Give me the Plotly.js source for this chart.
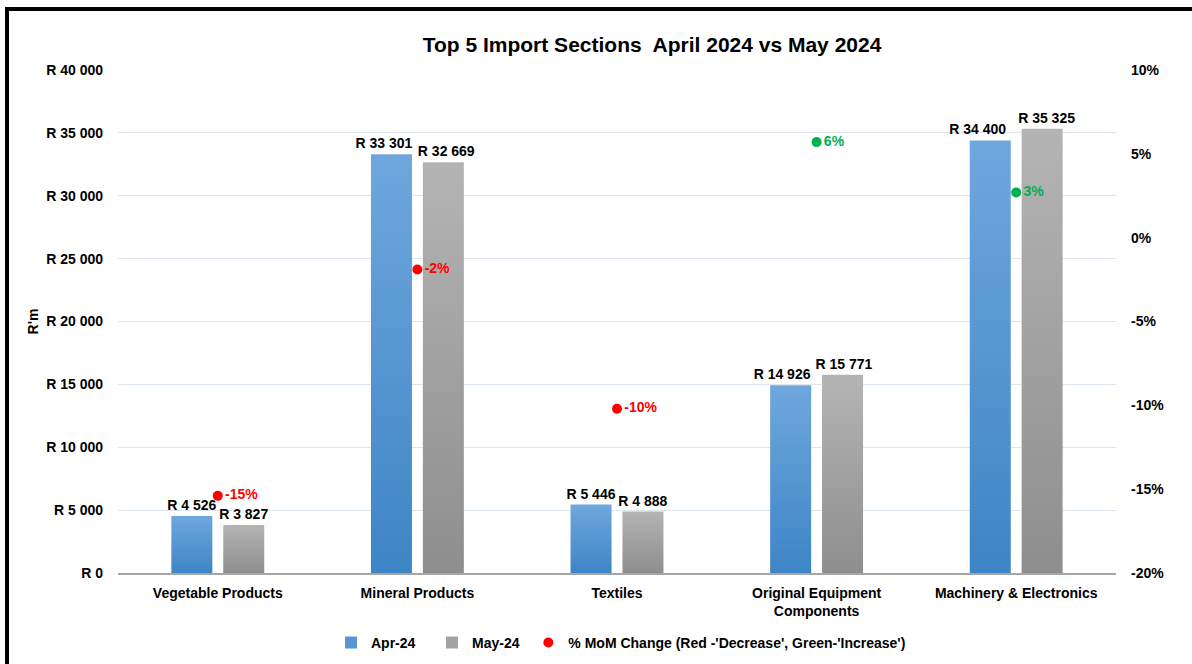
<!DOCTYPE html>
<html>
<head>
<meta charset="utf-8">
<script src="https://cdn.plot.ly/plotly-3.0.1.min.js"></script>
<style>
  html, body { margin: 0; padding: 0; background: #fff; }
  #wrap { position: relative; width: 1192px; height: 664px; overflow: hidden; }
  #chart { position: absolute; left: 0; top: 0; width: 1192px; height: 664px; }
  #frame { position: absolute; left: 5px; top: 7px; width: 1200px; height: 700px;
           border-left: 4px solid #000; border-top: 4px solid #000; pointer-events: none; }
</style>
</head>
<body>
<div id="wrap">
  <div id="chart"></div>
  <div id="frame"></div>
</div>
<script>
const categories = ["Vegetable Products", "Mineral Products", "Textiles", "Original Equipment<br>Components", "Machinery & Electronics"];
const apr24 = [4526, 33301, 5446, 14926, 34400];
const may24 = [3827, 32669, 4888, 15771, 35325];
const momChange = [-15.4, -1.9, -10.2, 5.7, 2.7];
const momLabels = ["-15%", "-2%", "-10%", "6%", "3%"];
const leftTicks = [0, 5000, 10000, 15000, 20000, 25000, 30000, 35000, 40000];
const rightTicks = [-20, -15, -10, -5, 0, 5, 10];

// label styling: sideways pixel nudges of value labels (Excel moves them to avoid collisions)
const aprLabelShift = [0, -7.5, 0, -8.5, -12.5];
const mayLabelShift = [0, 3, 0, 1.5, 4.5];

const NBSP = "\u00a0";
function fmtR(v) {
  return "R " + String(v).replace(/\B(?=(\d{3})+(?!\d))/g, " ");
}
const momColors = momChange.map(v => v < 0 ? "#ff0000" : "#00b050");

const FONT = "Liberation Sans, Arial, sans-serif";

const traces = [
  {
    type: "bar", name: "Apr-24" + NBSP.repeat(3), x: categories, y: apr24,
    marker: { color: "#5597d4" },
    text: apr24.map(fmtR), textposition: "outside", cliponaxis: false, constraintext: "none",
    textfont: { family: FONT, size: 14, color: "#000", weight: 700 },
    hoverinfo: "none"
  },
  {
    type: "bar", name: "May-24" + NBSP, x: categories, y: may24,
    marker: { color: "#a3a3a3" },
    text: may24.map(fmtR), textposition: "outside", cliponaxis: false, constraintext: "none",
    textfont: { family: FONT, size: 14, color: "#000", weight: 700 },
    hoverinfo: "none"
  },
  {
    type: "scatter", mode: "markers+text",
    name: "% MoM Change (Red -'Decrease', Green-'Increase')",
    x: categories, y: momChange, yaxis: "y2",
    marker: { color: momColors, size: 10 },
    text: momLabels, textposition: "middle right",
    textfont: { family: FONT, size: 14, color: momColors, weight: 700 },
    cliponaxis: false, hoverinfo: "none"
  }
];

const layout = {
  width: 1192, height: 664,
  paper_bgcolor: "#fff", plot_bgcolor: "#fff",
  margin: { l: 118, r: 76, t: 70, b: 91, autoexpand: false },
  font: { family: FONT, size: 12, color: "#000" },
  title: {
    text: "Top 5 Import Sections  April 2024 vs May 2024",
    font: { family: FONT, size: 21, color: "#000", weight: 700 },
    x: 0.547, xanchor: "center", y: 0.933, yanchor: "middle"
  },
  barmode: "group", bargap: 0.48, bargroupgap: 0.21,
  showlegend: true,
  legend: {
    orientation: "h", x: 0.2134, xanchor: "left", y: -0.139, yanchor: "middle",
    font: { family: FONT, size: 14, color: "#000", weight: 700 },
    traceorder: "normal"
  },
  annotations: [{
    text: "R'm", xref: "paper", yref: "paper", x: -0.0852, y: 0.5,
    xanchor: "center", yanchor: "middle", textangle: -90, showarrow: false,
    font: { family: FONT, size: 14, color: "#000", weight: 700 }
  }],
  xaxis: {
    type: "category", range: [-0.5, 4.5],
    showline: true, linecolor: "#a6a6a6", linewidth: 2,
    ticks: "", showgrid: false, ticklabelstandoff: 6,
    tickfont: { family: FONT, size: 14, color: "#000", weight: 700 }
  },
  yaxis: {
    range: [0, 40000], tickvals: leftTicks, ticktext: leftTicks.map(fmtR),
    showgrid: true, gridcolor: "#dde5ef", gridwidth: 1,
    zeroline: false, showline: false, ticks: "",
    ticklabelstandoff: 14,
    tickfont: { family: FONT, size: 14, color: "#000", weight: 700 }
  },
  yaxis2: {
    overlaying: "y", side: "right", range: [-20, 10],
    tickvals: rightTicks, ticktext: rightTicks.map(v => v + "%"),
    showgrid: false, zeroline: false, showline: false, ticks: "",
    ticklabelstandoff: 14,
    tickfont: { family: FONT, size: 14, color: "#000", weight: 700 }
  }
};

Plotly.newPlot("chart", traces, layout, { displayModeBar: false, staticPlot: true }).then(function (gd) {
  const svg = gd.querySelector(".main-svg");
  const ns = "http://www.w3.org/2000/svg";
  let defs = svg.querySelector("defs");
  if (!defs) { defs = document.createElementNS(ns, "defs"); svg.insertBefore(defs, svg.firstChild); }
  function grad(id, c1, c2) {
    const lg = document.createElementNS(ns, "linearGradient");
    lg.setAttribute("id", id);
    lg.setAttribute("x1", "0"); lg.setAttribute("y1", "0");
    lg.setAttribute("x2", "0"); lg.setAttribute("y2", "1");
    const s1 = document.createElementNS(ns, "stop");
    s1.setAttribute("offset", "0"); s1.setAttribute("stop-color", c1);
    const s2 = document.createElementNS(ns, "stop");
    s2.setAttribute("offset", "1"); s2.setAttribute("stop-color", c2);
    lg.appendChild(s1); lg.appendChild(s2);
    defs.appendChild(lg);
  }
  grad("gBlue", "#6fa7dd", "#3d85c6");
  grad("gGray", "#b4b4b4", "#8e8e8e");
  const barTraces = gd.querySelectorAll(".barlayer .trace");
  const ids = ["gBlue", "gGray"];
  const shifts = [aprLabelShift, mayLabelShift];
  barTraces.forEach(function (t, i) {
    t.querySelectorAll(".point path").forEach(function (p) {
      p.style.fill = "url(#" + ids[i] + ")";
    });
    t.querySelectorAll(".point").forEach(function (pt, j) {
      const tx = pt.querySelector("text");
      if (tx && shifts[i][j]) {
        const tr = tx.getAttribute("transform") || "";
        tx.setAttribute("transform", "translate(" + shifts[i][j] + ",0) " + tr);
      }
    });
  });
});
</script>
</body>
</html>
